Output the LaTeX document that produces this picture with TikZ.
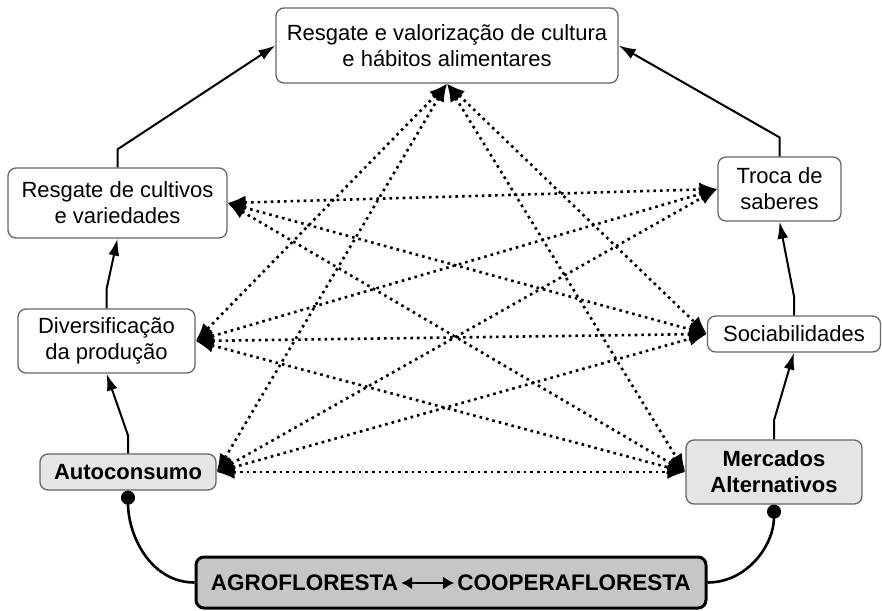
\documentclass[tikz,border=0pt]{standalone}
\usepackage{fontspec}
\setmainfont{Liberation Sans}
\usetikzlibrary{arrows.meta}
\tikzset{
	box/.style={draw=gray!80!black,rounded corners=8pt,fill=white,line width=1.3pt,align=center,inner sep=0pt,font=\fontsize{22}{26}\selectfont},
	gbox/.style={box,fill=gray!20,font=\fontsize{22}{26}\selectfont\bfseries},
	link/.style={line width=2.6pt,dash pattern=on 2.6pt off 4pt,{Latex[length=18pt,width=14pt]}-{Latex[length=18pt,width=14pt]}},
	flow/.style={line width=2pt,-{Latex[length=17pt,width=11pt]}},
	tie/.style={line width=2.6pt,{Circle[length=14pt]}-}
}
\begin{document}
\begin{tikzpicture}[x=1pt,y=-1pt]
	\useasboundingbox (0,0) rectangle (882,610);

	\node [box,minimum width=342pt,minimum height=75pt] (cultura) at (447,45.5) {Resgate e valorização de cultura\\e hábitos alimentares};
	\node [box,minimum width=219pt,minimum height=70pt] (cultivos) at (117.5,203) {Resgate de cultivos\\e variedades};
	\node [box,minimum width=177pt,minimum height=64pt] (divers) at (106.5,341) {Diversificação\\da produção};
	\node [gbox,minimum width=176pt,minimum height=36pt] (auto) at (128,472) {Autoconsumo};
	\node [box,minimum width=123pt,minimum height=64pt] (troca) at (779.5,189) {Troca de\\saberes};
	\node [box,minimum width=173pt,minimum height=36pt] (socia) at (794,334) {Sociabilidades};
	\node [gbox,minimum width=176pt,minimum height=64pt] (merc) at (774,472) {Mercados\\Alternativos};
	\node [draw,line width=3pt,rounded corners=8pt,fill=gray!45,minimum width=510pt,minimum height=51pt] (agro) at (451,582.5) {};
	\node [font=\fontsize{22.5}{26}\selectfont\bfseries,inner sep=3pt] (agrolbl) at (304.5,583) {AGROFLORESTA};
	\node [font=\fontsize{22.5}{26}\selectfont\bfseries,inner sep=3pt] (cooplbl) at (574,583) {COOPERAFLORESTA};

	\draw [line width=2.8pt,{Latex[length=11pt,width=13pt]}-{Latex[length=11pt,width=13pt]}] (agrolbl) -- (cooplbl);

	\draw [flow] (cultivos.north) -- ++(0,-18) -- (cultura.west);
	\draw [flow] (troca.north) -- ++(0,-19) -- (cultura.east);
	\draw [flow] (divers.north) -- ++(0,-19) -- (cultivos.south);
	\draw [flow] (auto.north) -- ++(0,-18) -- (divers.south);
	\draw [flow] (merc.north) -- ++(0,-19) -- (socia.south);
	\draw [flow] (socia.north) -- ++(0,-19) -- (troca.south);

	\draw [tie] (auto.south) to[out=-90,in=180] (agro.west);
	\draw [tie] (merc.south) to[out=-90,in=0] (agro.east);

	\foreach \a/\b in {cultura.south/divers.east,cultura.south/auto.east,cultura.south/socia.west,cultura.south/merc.west,
		cultivos.east/troca.west,cultivos.east/socia.west,cultivos.east/merc.west,
		divers.east/troca.west,divers.east/socia.west,divers.east/merc.west,
		auto.east/troca.west,auto.east/socia.west,auto.east/merc.west}
		\draw [link] (\a) -- (\b);
\end{tikzpicture}
\end{document}
